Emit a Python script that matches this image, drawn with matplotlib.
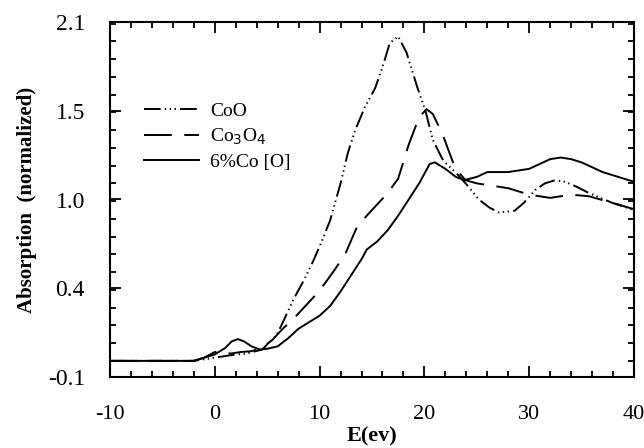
import matplotlib
matplotlib.use("Agg")
import matplotlib.pyplot as plt
from matplotlib.ticker import MultipleLocator

plt.rcParams['font.family'] = ['Liberation Serif', 'DejaVu Serif']
plt.rcParams['lines.scale_dashes'] = False
plt.rcParams['axes.unicode_minus'] = False

# CoO  (dash-dot-dot)
e_coo = [-10, -2, 0, 1.5, 3, 4.5, 5.3, 5.9, 6.5, 7.5, 8.5, 9.4, 10.2, 11.0, 12.0,
         12.7, 13.4, 14.3, 15.3, 16.0, 16.7, 17.5, 18.3, 19.3, 20.1, 20.8, 21.8,
         23.1, 24.2, 25.2, 26.2, 27.1, 28.6, 29.5, 30.6, 31.5, 32.5, 33.4, 34.5,
         35.7, 37.9, 40]
y_coo = [0, 0, 0.02, 0.035, 0.045, 0.07, 0.12, 0.16, 0.24, 0.38, 0.50, 0.62, 0.74,
         0.87, 1.10, 1.29, 1.43, 1.57, 1.69, 1.82, 1.97, 2.01, 1.91, 1.70, 1.55,
         1.37, 1.24, 1.16, 1.08, 1.0, 0.95, 0.92, 0.93, 0.98, 1.06, 1.10, 1.12,
         1.11, 1.08, 1.04, 0.98, 0.935]

# Co3O4  (long dash)
e_co3o4 = [-10, -2, -1, 0, 0.7, 1.5, 2.5, 3.5, 4.5, 5.5, 6.5, 7.5, 8.5, 9.5, 10.5,
           11.5, 12.5, 13.5, 14.5, 15.5, 16.5, 17.5, 18.5, 19.5, 20.2, 20.8, 21.7,
           22.9, 23.9, 25, 26, 28, 30, 32, 33, 34, 35.7, 37.9, 40]
y_co3o4 = [0, 0, 0.02, 0.055, 0.06, 0.045, 0.055, 0.06, 0.08, 0.13, 0.2, 0.26,
           0.33, 0.40, 0.48, 0.57, 0.67, 0.82, 0.90, 0.97, 1.04, 1.13, 1.34, 1.51,
           1.56, 1.53, 1.41, 1.20, 1.12, 1.10, 1.09, 1.07, 1.03, 1.01, 1.02, 1.03,
           1.02, 0.98, 0.94]

# 6%Co [O]  (solid)
e_co6 = [-10, -2, -1, 0, 1, 1.6, 2.2, 2.8, 3.5, 4.3, 5, 6, 7, 8, 9, 10, 11, 12, 13,
         14, 14.5, 15.5, 16.5, 17.5, 18.5, 19.5, 20.5, 21, 22, 23, 23.8, 25, 26,
         28, 30, 31, 32, 33, 34, 35, 36, 37, 38, 39, 40]
y_co6 = [0, 0, 0.02, 0.04, 0.08, 0.12, 0.135, 0.12, 0.09, 0.07, 0.075, 0.09, 0.14,
         0.20, 0.24, 0.28, 0.34, 0.43, 0.53, 0.63, 0.69, 0.74, 0.81, 0.90, 1.00,
         1.10, 1.22, 1.23, 1.19, 1.14, 1.12, 1.14, 1.17, 1.17, 1.19, 1.22, 1.25,
         1.26, 1.25, 1.23, 1.20, 1.17, 1.15, 1.13, 1.11]

yticks = [-0.1, 0.45, 1.0, 1.55, 2.1]
ytick_labels = ['-0.1', '0.4', '1.0', '1.5', '2.1']
xticks = [-10, 0, 10, 20, 30, 40]

fig = plt.figure(figsize=(6.44, 4.48), dpi=100)
ax = fig.add_axes([110/644, 1-377/448, 524/644, 355/448])

ax.plot(e_coo, y_coo, color='black', lw=1.4, ls=(0, (12, 3, 1, 2.5, 1, 2.5, 1, 3)), label='CoO')
ax.plot(e_co3o4, y_co3o4, color='black', lw=1.4, ls=(0, (20, 9)), label='Co$_3$O$_4$')
ax.plot(e_co6, y_co6, color='black', lw=1.4, ls='-', label='6%Co [O]')

ax.set_xlim(-10, 40)
ax.set_ylim(-0.1, 2.1)
ax.set_xticks(xticks)
ax.set_yticks(yticks)
ax.set_yticklabels(ytick_labels)
ax.xaxis.set_minor_locator(MultipleLocator(2))
ax.yaxis.set_minor_locator(MultipleLocator(0.11))

ax.tick_params(which='both', direction='in', top=True, right=True, width=1.3)
ax.tick_params(which='major', length=8, labelsize=17)
ax.tick_params(axis='x', which='major', pad=20, labelsize=16)
ax.tick_params(axis='y', which='major', pad=18)
ax.tick_params(which='minor', length=4)
for s in ax.spines.values():
    s.set_linewidth(1.5)

ax.set_xlabel('E(ev)', fontsize=16, fontweight='bold', labelpad=2)
ax.set_ylabel('Absorption  (normalized)', fontsize=15, fontweight='bold', labelpad=8)

ax.legend(loc='upper left', bbox_to_anchor=(0.032, 0.824), frameon=False, fontsize=14,
          handlelength=2.8, labelspacing=0.35, handletextpad=0.6)

fig.savefig('out.png', dpi=100)
